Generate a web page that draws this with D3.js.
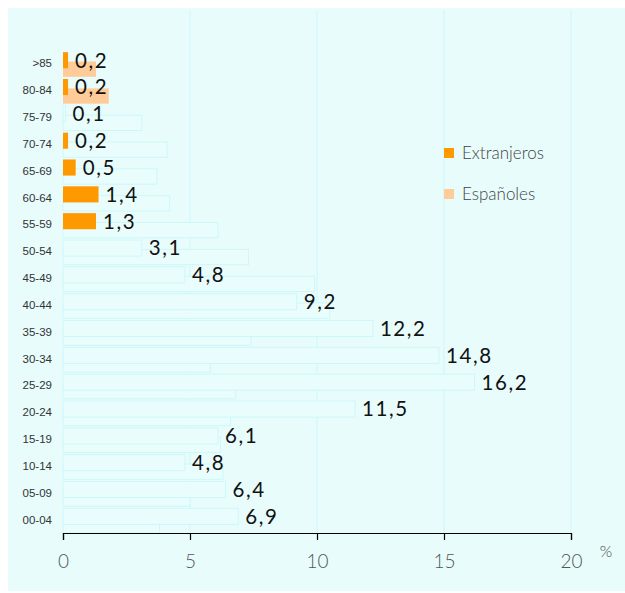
<!DOCTYPE html>
<html><head><meta charset="utf-8">
<script src="https://cdn.jsdelivr.net/npm/d3@7/dist/d3.min.js"></script>
<style>body{margin:0;background:#fff}svg{display:block}</style>
</head><body>
<svg id="c" width="625" height="593"></svg>
<script>
const categories = [">85","80-84","75-79","70-74","65-69","60-64","55-59","50-54","45-49","40-44","35-39","30-34","25-29","20-24","15-19","10-14","05-09","00-04"];
const extranjeros = [0.2,0.2,0.1,0.2,0.5,1.4,1.3,3.1,4.8,9.2,12.2,14.8,16.2,11.5,6.1,4.8,6.4,6.9];
const espanoles = [1.3,1.8,3.1,4.1,3.7,4.2,6.1,7.3,9.9,10.5,7.4,5.8,6.8,6.6,6.2,6.3,5.0,3.8];
const xTicks = [0,5,10,15,20];
const seriesNames = ["Extranjeros","Españoles"];
// rows whose bars are drawn in colour in the original picture
const colouredExt = [">85","80-84","70-74","65-69","60-64","55-59"];
const colouredEsp = [">85","80-84"];

const svg = d3.select("#c");
const bg = "#e8fcfc", barFill = "#eafdfd", barStroke = "#cdf7f9", grid = "#cdf7f9";
const orange = "#ff9900", peach = "#ffcc99";

svg.append("rect").attr("x",8).attr("y",8).attr("width",617).attr("height",583).attr("fill",bg);

const x = d3.scaleLinear().domain([0,20]).range([63,571]);
const y = d3.scaleBand().domain(categories).range([50,533]);
const bw = y.bandwidth();

// grid
svg.append("g").selectAll("line").data(xTicks.slice(1)).join("line")
  .attr("x1",d=>x(d)).attr("x2",d=>x(d)).attr("y1",10).attr("y2",533)
  .attr("stroke",grid).attr("stroke-width",1);

const rows = categories.map((c,i)=>({c, ext:extranjeros[i], esp:espanoles[i]}));

// Españoles bars (below)
svg.append("g").selectAll("rect").data(rows).join("rect")
  .attr("x",x(0)).attr("y",d=>y(d.c)+bw*0.43).attr("height",bw*0.57)
  .attr("width",d=>x(d.esp)-x(0))
  .attr("fill",d=>colouredEsp.includes(d.c)?peach:barFill)
  .attr("stroke",d=>colouredEsp.includes(d.c)?"none":barStroke).attr("stroke-width",1);

// Extranjeros bars (above)
svg.append("g").selectAll("rect").data(rows).join("rect")
  .attr("x",x(0)).attr("y",d=>y(d.c)+bw*0.08).attr("height",bw*0.6)
  .attr("width",d=>x(d.ext)-x(0))
  .attr("fill",d=>colouredExt.includes(d.c)?orange:barFill)
  .attr("stroke",d=>colouredExt.includes(d.c)?"none":barStroke).attr("stroke-width",1);

const loc = d3.formatLocale({decimal:",",thousands:".",grouping:[3],currency:["","€"]});
const f1 = loc.format(".1f");

// value labels
svg.append("g").selectAll("text").data(rows).join("text")
  .attr("x",d=>x(d.ext)+7).attr("y",d=>y(d.c)+bw*0.38)
  .attr("dy","0.36em")
  .attr("font-family","Lato, sans-serif").attr("font-size",20.5)
  .attr("letter-spacing","1.6px").attr("fill","#111")
  .text(d=>f1(d.ext));

// category labels
svg.append("g").selectAll("text").data(categories).join("text")
  .attr("x",52).attr("y",d=>y(d)+bw/2).attr("dy","0.35em")
  .attr("text-anchor","end").attr("font-family","Liberation Sans, Arial, sans-serif")
  .attr("font-size",11.5).attr("fill","#333").text(d=>d);

// x axis
const ax = svg.append("g").attr("transform","translate(0,533)")
  .call(d3.axisBottom(x).tickValues(xTicks).tickSize(7).tickPadding(15).tickFormat(d=>d));
ax.select(".domain").attr("stroke","#000").attr("stroke-width",1.2);
ax.selectAll(".tick line").attr("stroke","#000").attr("stroke-width",1.2);
ax.selectAll(".tick text").attr("font-family","Lato, sans-serif").attr("font-weight",300)
  .attr("font-size",19).attr("fill","#555");

svg.append("text").attr("x",606).attr("y",557).attr("text-anchor","middle")
  .attr("font-family","Lato, sans-serif").attr("font-weight",300).attr("font-size",16)
  .attr("fill","#444").text("%");

// legend
const leg = svg.append("g");
[orange,peach].forEach((col,i)=>{
  const ly = 153 + i*41;
  leg.append("rect").attr("x",444).attr("y",ly-5).attr("width",10).attr("height",10).attr("fill",col);
  leg.append("text").attr("x",462).attr("y",ly).attr("dy","0.35em")
    .attr("font-family","Lato, sans-serif").attr("font-weight",300).attr("font-size",17)
    .attr("fill","#444").text(seriesNames[i]);
});
</script>
</body></html>
